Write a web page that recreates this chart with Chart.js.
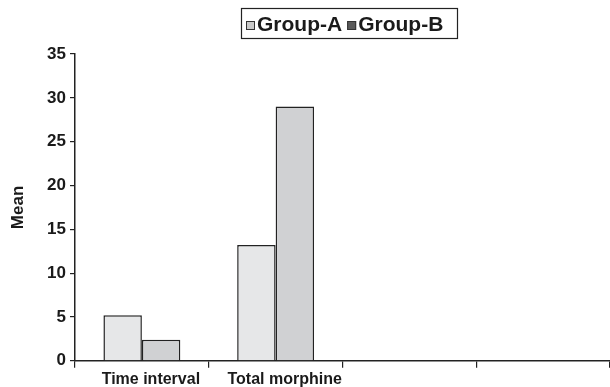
<!DOCTYPE html>
<html>
<head>
<meta charset="utf-8">
<script src="https://cdn.jsdelivr.net/npm/chart.js@4"></script>
<style>
html,body{margin:0;padding:0;background:#fff;}
#wrap{width:610px;height:387px;position:relative;}
</style>
</head>
<body>
<div id="wrap"><canvas id="c" width="610" height="387"></canvas></div>
<script>
const categories = ['Time interval', 'Total morphine', '', ''];
const groupA = [5.2, 13.2, null, null];
const groupB = [2.4, 29.0, null, null];
const seriesNames = ['Group-A', 'Group-B'];
const yTicks = [0, 5, 10, 15, 20, 25, 30, 35];

const FONT = '"Liberation Sans", Arial, sans-serif';

const boxLegend = {
  id: 'boxLegend',
  afterDraw(chart) {
    const ctx = chart.ctx;
    const bx = 241, by = 8, bw = 216, bh = 30;
    ctx.save();
    ctx.strokeStyle = '#222';
    ctx.lineWidth = 1.2;
    ctx.strokeRect(bx + 0.5, by + 0.5, bw, bh);
    ctx.font = 'bold 21px ' + FONT;
    ctx.textBaseline = 'middle';
    const swatch = ['#c9c9c9', '#5a5a5a'];
    let x = bx + 5;
    const cy = by + bh / 2 + 1;
    chart.data.datasets.forEach((ds, i) => {
      ctx.fillStyle = swatch[i];
      ctx.fillRect(x, cy - 3, 9, 9);
      ctx.strokeStyle = '#333';
      ctx.lineWidth = 1;
      ctx.strokeRect(x + 0.5, cy - 2.5, 8, 8);
      ctx.fillStyle = '#1a1a1a';
      ctx.fillText(ds.label, x + 11, cy + 1);
      x += 11 + ctx.measureText(ds.label).width + 5;
    });
    ctx.restore();
  }
};

new Chart(document.getElementById('c'), {
  type: 'bar',
  data: {
    labels: categories,
    datasets: [
      { label: seriesNames[0], data: groupA, backgroundColor: '#e6e7e8', borderColor: '#222', borderWidth: 1.5 },
      { label: seriesNames[1], data: groupB, backgroundColor: '#d0d1d3', borderColor: '#222', borderWidth: 1.5 }
    ]
  },
  options: {
    responsive: false,
    animation: false,
    layout: { padding: { top: 54, right: 0, left: 0, bottom: -4 } },
    plugins: { legend: { display: false }, tooltip: { enabled: false } },
    datasets: { bar: { barPercentage: 1.0, categoryPercentage: 0.575 } },
    scales: {
      x: {
        offset: true,
        grid: { display: true, offset: true, drawOnChartArea: false, tickLength: 7, color: '#222', lineWidth: 1.2 },
        border: { display: true, color: '#222', width: 1.5 },
        ticks: { color: '#1a1a1a', font: { family: FONT, size: 16, weight: 'bold' }, labelOffset: 9, padding: 2, maxRotation: 0, autoSkip: false }
      },
      y: {
        min: 0, max: 35,
        afterBuildTicks(scale) { scale.ticks = yTicks.map(v => ({ value: v })); },
        afterFit(scale) { scale.width = 75; },
        grid: { display: true, drawOnChartArea: false, tickLength: 5, color: '#222', lineWidth: 1.2 },
        border: { display: true, color: '#222', width: 1.5 },
        ticks: { color: '#1a1a1a', font: { family: FONT, size: 17, weight: 'bold' }, padding: 4 },
        title: { display: true, text: 'Mean', color: '#1a1a1a', font: { family: FONT, size: 17, weight: 'bold' }, padding: { top: 8, bottom: 0 } }
      }
    }
  },
  plugins: [boxLegend]
});
</script>
</body>
</html>
